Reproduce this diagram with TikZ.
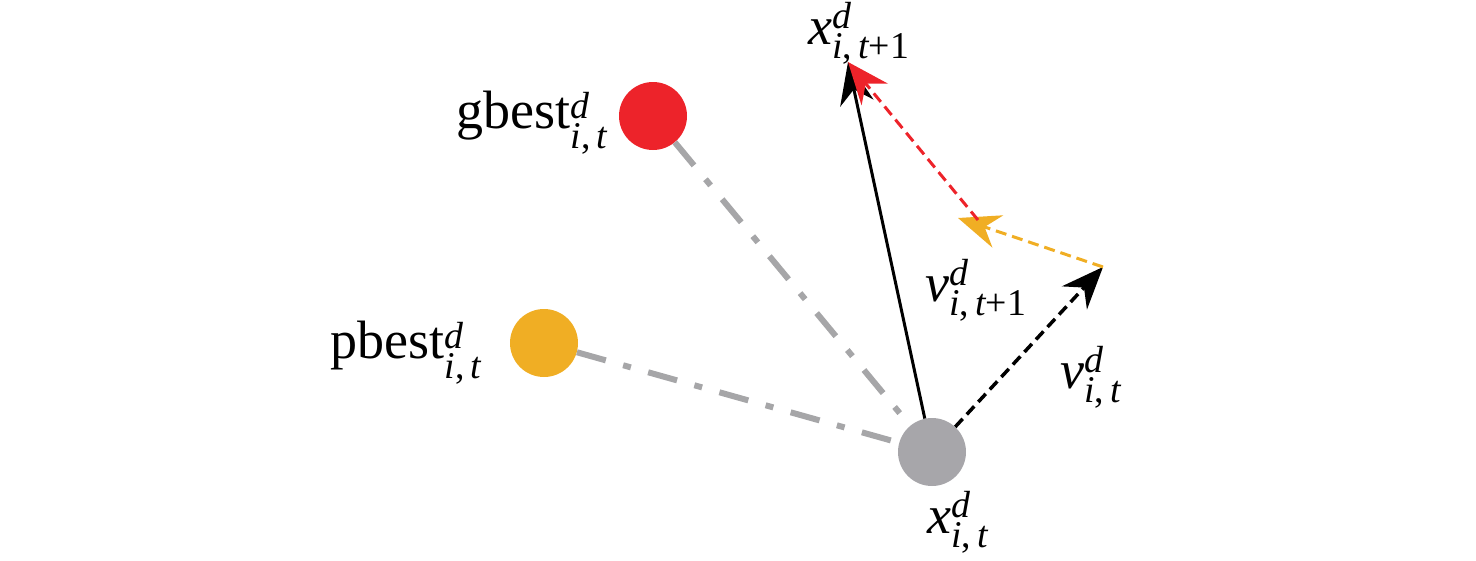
\documentclass[tikz,border=0pt]{standalone}
\usepackage{amsmath}
\usepackage{fontspec}
\setmainfont{Liberation Serif}
\usetikzlibrary{arrows.meta}

\definecolor{gbestred}{RGB}{237,35,42}
\definecolor{pbestyel}{RGB}{240,174,36}
\definecolor{posgray}{RGB}{167,166,170}
\definecolor{linkgray}{RGB}{166,166,168}

% particle symbols: letter, extra subscript
\newcommand{\pv}[2]{$\textit{#1}^{\textit{d}}_{\textit{i}\textrm{,\,}\textit{t}#2}$}

\tikzset{
  particle/.style={circle, inner sep=0pt, minimum size=68pt},
  tag/.style={font=\fontsize{54}{60}\selectfont, inner sep=0pt},
  link/.style={linkgray, line width=6pt, dash pattern=on 30pt off 18pt on 8pt off 18pt},
  head/.style={-{Stealth[length=42pt,width=34pt,inset=14pt]}},
  dashline/.style={dash pattern=on 11pt off 6pt}
}

\begin{document}
\begin{tikzpicture}[x=1pt, y=-1pt]
\useasboundingbox (0,0) rectangle (1476,560);

\node [particle, fill=gbestred] (g) at (653,116) {};
\node [particle, fill=pbestyel] (p) at (544,343) {};
\node [particle, fill=posgray] (x) at (932,452) {};

\coordinate (xn) at (848,62);
\coordinate (vt) at (1103,267);
\coordinate (pe) at (958,218);
\coordinate (rs) at (978,220);

\draw [link] (g) -- (x);
\draw [link] (p) -- (x);

\draw [head, line width=3pt] (x) -- (xn);
\draw [head, dashline, line width=3.5pt] (x) -- (vt);
\draw [head, dashline, pbestyel, line width=3pt] (vt) -- (pe);
\draw [head, dashline, gbestred, line width=3pt] (rs) -- (xn);

\node [tag, anchor=base east] (gl) at (608,128) {gbest\pv{}{}};
\node [tag, anchor=base east] (pl) at (482,358) {pbest\pv{}{}};
\node [tag, anchor=base west] (xnl) at (808,44) {\pv{x}{\textrm{+1}}};
\node [tag, anchor=base west] (vnl) at (925,301) {\pv{v}{\textrm{+1}}};
\node [tag, anchor=base west] (vtl) at (1060,388) {\pv{v}{}};
\node [tag, anchor=base west] (xl) at (927,533) {\pv{x}{}};

\end{tikzpicture}
\end{document}
